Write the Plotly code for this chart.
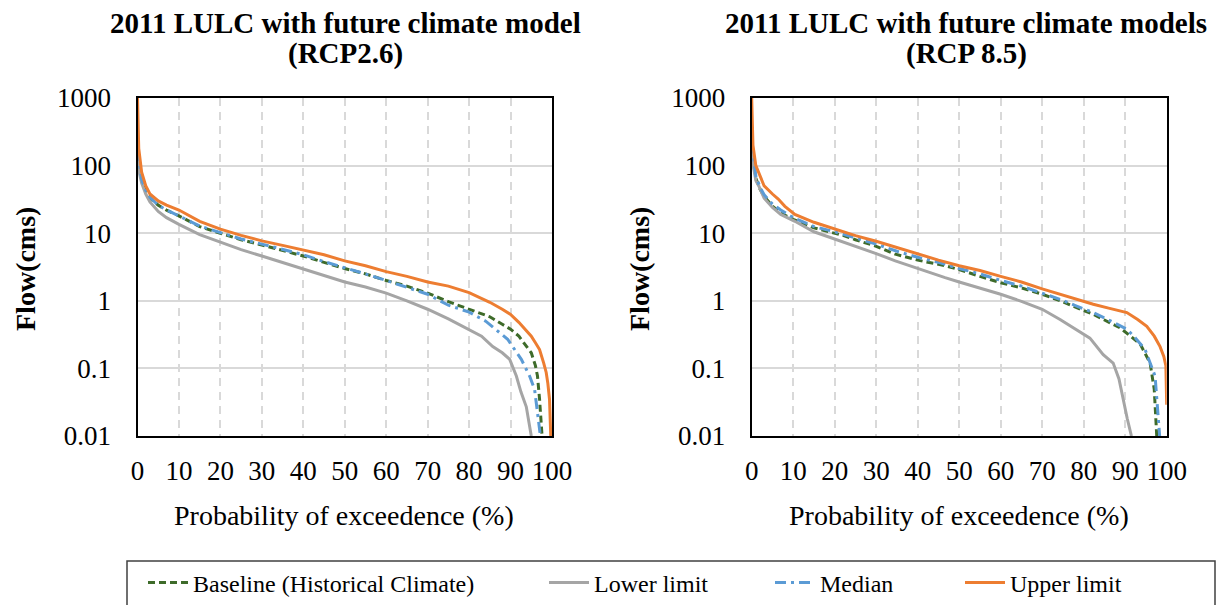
import plotly.graph_objects as go

# ---- Flow duration curves: 2011 LULC, RCP2.6 ----
rcp26_base_x = [0, 0.5, 1, 2, 3, 5, 7, 10, 15, 20, 25, 30, 35, 40, 45, 50, 55, 60, 65, 70, 75, 80, 85, 88, 90, 92, 94, 95, 96, 96.5, 97, 97.6]
rcp26_base_y = [150, 90, 60, 42, 33, 26, 22, 18, 12.5, 10, 8, 6.7, 5.6, 4.6, 3.7, 3.0, 2.5, 2.0, 1.65, 1.3, 0.97, 0.75, 0.58, 0.45, 0.38, 0.3, 0.21, 0.17, 0.11, 0.077, 0.035, 0.01]

rcp26_low_x = [0, 0.5, 1, 2, 3, 5, 7, 10, 15, 20, 25, 30, 35, 40, 45, 50, 55, 60, 65, 70, 75, 80, 83, 85.7, 88, 89.8, 91.4, 92.5, 93.8, 95]
rcp26_low_y = [130, 75, 55, 38, 29, 21, 17, 13.5, 9.5, 7.3, 5.7, 4.6, 3.7, 3.0, 2.4, 1.9, 1.6, 1.3, 1.0, 0.75, 0.54, 0.37, 0.3, 0.21, 0.17, 0.136, 0.077, 0.045, 0.027, 0.01]

rcp26_med_x = [0, 0.5, 1, 2, 3, 5, 7, 10, 15, 20, 25, 30, 35, 40, 45, 50, 55, 60, 65, 70, 75, 80, 84, 86, 89.3, 92.6, 94.6, 95.8, 96.3, 97.2]
rcp26_med_y = [170, 95, 62, 43, 34, 26, 22, 18, 12.8, 10.2, 8.2, 6.9, 5.7, 4.8, 3.8, 3.1, 2.5, 2.0, 1.6, 1.25, 0.86, 0.68, 0.5, 0.4, 0.27, 0.136, 0.077, 0.049, 0.028, 0.01]

rcp26_up_x = [0, 0.3, 1, 2, 3, 5, 7, 10, 15, 20, 25, 30, 35, 40, 45, 50, 55, 60, 65, 70, 75, 80, 85, 88, 90, 92, 94, 95, 96, 97, 98, 98.6, 99, 99.4, 99.7]
rcp26_up_y = [1000, 180, 80, 50, 38, 30, 26, 22, 15, 11.5, 9.3, 7.7, 6.6, 5.7, 4.8, 3.9, 3.3, 2.7, 2.3, 1.9, 1.65, 1.32, 0.95, 0.75, 0.63, 0.48, 0.35, 0.3, 0.24, 0.19, 0.12, 0.087, 0.06, 0.035, 0.01]

# ---- Flow duration curves: 2011 LULC, RCP8.5 ----
rcp85_base_x = [0, 0.5, 1, 2, 3, 5, 7, 10, 15, 20, 22.5, 25, 30, 34.6, 40, 46.6, 50, 55, 60, 65, 70, 74.3, 78, 82.3, 85, 88.7, 91, 93.6, 96, 97, 97.6]
rcp85_base_y = [200, 100, 65, 45, 35, 25, 20, 16, 12, 10, 9.1, 8, 6.4, 4.9, 4.0, 3.3, 2.9, 2.3, 1.85, 1.55, 1.25, 1.0, 0.8, 0.63, 0.52, 0.4, 0.31, 0.23, 0.12, 0.049, 0.01]

rcp85_low_x = [0, 0.5, 1, 1.7, 3, 5, 7, 10.4, 15, 20, 22.5, 25, 30, 34.6, 40, 46.6, 50, 55, 60, 65, 70, 74.3, 78, 81.5, 84.7, 87.1, 88.5, 89.5, 90.5, 91.5]
rcp85_low_y = [180, 90, 60, 50, 33, 24, 19, 15, 10.5, 8.2, 7.3, 6.4, 5.0, 3.9, 3.0, 2.2, 1.9, 1.55, 1.25, 0.98, 0.75, 0.53, 0.38, 0.28, 0.16, 0.12, 0.07, 0.035, 0.018, 0.01]

rcp85_med_x = [0, 0.5, 1, 2, 3, 5, 7, 10, 15, 20, 25, 30, 35, 40, 45, 50, 55, 60, 65, 70, 74.3, 78, 82.3, 86, 90.4, 92.5, 94.8, 97.2, 97.7, 98.2, 98.3]
rcp85_med_y = [220, 110, 70, 48, 37, 27, 22, 17, 12.5, 10.5, 8.5, 6.9, 5.4, 4.4, 3.7, 3.0, 2.5, 2.0, 1.65, 1.3, 1.05, 0.85, 0.67, 0.52, 0.38, 0.28, 0.19, 0.077, 0.031, 0.011, 0.01]

rcp85_up_x = [0, 0.3, 1, 1.6, 3, 5, 6.4, 8, 10.4, 15, 20, 22.5, 25, 30, 35, 40, 45, 50, 55, 60, 65, 70, 74.3, 78, 82.3, 86, 90.4, 93, 95.2, 97, 98.4, 99.3, 99.8, 100]
rcp85_up_y = [1000, 200, 100, 80, 50, 38, 32, 25, 19, 14.5, 11.5, 10.3, 9.2, 7.6, 6.1, 5.0, 4.0, 3.3, 2.8, 2.3, 1.9, 1.5, 1.25, 1.05, 0.89, 0.78, 0.67, 0.53, 0.42, 0.3, 0.21, 0.15, 0.11, 0.029]

series_names = ["Baseline (Historical Climate)", "Lower limit", "Median", "Upper limit"]
panel_title_lines = [["2011 LULC with future climate model", "(RCP2.6)"],
                     ["2011 LULC with future climate models", "(RCP 8.5)"]]
x_tick_vals = [0, 10, 20, 30, 40, 50, 60, 70, 80, 90, 100]
y_tick_vals = [0.01, 0.1, 1, 10, 100, 1000]
y_tick_text = ["0.01", "0.1", "1", "10", "100", "1000"]

styles = [
    dict(color="#3E6B2A", width=3, dash="7px,4px"),
    dict(color="#A5A5A5", width=3, dash="solid"),
    dict(color="#5B9BD5", width=3, dash="11px,5px,3px,5px"),
    dict(color="#ED7D31", width=3, dash="solid"),
]

panels = [
    ("x", "y", [(rcp26_base_x, rcp26_base_y), (rcp26_low_x, rcp26_low_y),
                (rcp26_med_x, rcp26_med_y), (rcp26_up_x, rcp26_up_y)]),
    ("x2", "y2", [(rcp85_base_x, rcp85_base_y), (rcp85_low_x, rcp85_low_y),
                  (rcp85_med_x, rcp85_med_y), (rcp85_up_x, rcp85_up_y)]),
]

FONT = "Liberation Serif, Times New Roman, serif"
W, H = 1222, 605

fig = go.Figure()
legend_ids = ["legend", "legend2", "legend3", "legend4"]
for p, (xa, ya, curves) in enumerate(panels):
    for i, (xs, ys) in enumerate(curves):
        fig.add_trace(go.Scatter(
            x=xs, y=ys, xaxis=xa, yaxis=ya, mode="lines",
            name=series_names[i], line=styles[i],
            showlegend=(p == 0), legend=legend_ids[i],
        ))

x_domains = [[137.5 / W, 552 / W], [751.7 / W, 1166.7 / W]]
y_domain = [1 - 436 / H, 1 - 98 / H]

common_x = dict(range=[0, 100], tickvals=x_tick_vals, showgrid=True,
                gridcolor="#D9D9D9", gridwidth=2, griddash="8px,6px",
                showline=True, linecolor="black", linewidth=2, mirror=True,
                ticks="", ticklabelstandoff=10, zeroline=False,
                tickfont=dict(family=FONT, size=27, color="black"))
common_y = dict(type="log", range=[-2, 3], tickvals=y_tick_vals, ticktext=y_tick_text,
                showgrid=True, gridcolor="#D9D9D9", gridwidth=2,
                showline=True, linecolor="black", linewidth=2, mirror=True,
                ticks="", ticklabelstandoff=19, zeroline=False,
                tickfont=dict(family=FONT, size=27, color="black"))

fig.update_layout(
    width=W, height=H,
    margin=dict(l=0, r=0, t=0, b=0, autoexpand=False),
    paper_bgcolor="white", plot_bgcolor="white",
    font=dict(family=FONT, color="black"),
    xaxis=dict(domain=x_domains[0], anchor="y", **common_x),
    yaxis=dict(domain=y_domain, anchor="x", **common_y),
    xaxis2=dict(domain=x_domains[1], anchor="y2", **common_x),
    yaxis2=dict(domain=y_domain, anchor="x2", **common_y),
)

# one legend per entry so each entry sits at its own spot along the frame
legend_x_px = [143, 544, 770, 960]
for lid, lx in zip(legend_ids, legend_x_px):
    fig.update_layout({lid: dict(x=lx / W, xanchor="left", y=1 - 583 / H, yanchor="middle",
                                 orientation="h", bgcolor="rgba(0,0,0,0)", borderwidth=0,
                                 itemwidth=40,
                                 font=dict(family=FONT, size=24, color="black"))})

# frame around the legend row
fig.add_shape(type="rect", xref="paper", yref="paper",
              x0=127 / W, x1=1215 / W, y0=-0.01, y1=1 - 561 / H,
              line=dict(color="#404040", width=1.5), fillcolor="rgba(0,0,0,0)")

# panel titles (two lines each) and axis titles
title_cx = [345.5 / W, 966 / W]
xlab_cx = [344 / W, 958.5 / W]
ylab_x = [25 / W, 639 / W]
for k in range(2):
    for j, ypx in enumerate([23, 54]):
        fig.add_annotation(text="<b>" + panel_title_lines[k][j] + "</b>", xref="paper", yref="paper",
                           x=title_cx[k], y=1 - ypx / H, xanchor="center", yanchor="middle",
                           showarrow=False, font=dict(family=FONT, size=29, color="black"))
    fig.add_annotation(text="Probability of exceedence (%)", xref="paper", yref="paper",
                       x=xlab_cx[k], y=1 - 515 / H, xanchor="center", yanchor="middle",
                       showarrow=False, font=dict(family=FONT, size=28, color="black"))
    fig.add_annotation(text="<b>Flow(cms)</b>", xref="paper", yref="paper",
                       x=ylab_x[k], y=1 - 269 / H, xanchor="center", yanchor="middle",
                       showarrow=False, textangle=-90,
                       font=dict(family=FONT, size=28, color="black"))

fig.write_html("out.html")
